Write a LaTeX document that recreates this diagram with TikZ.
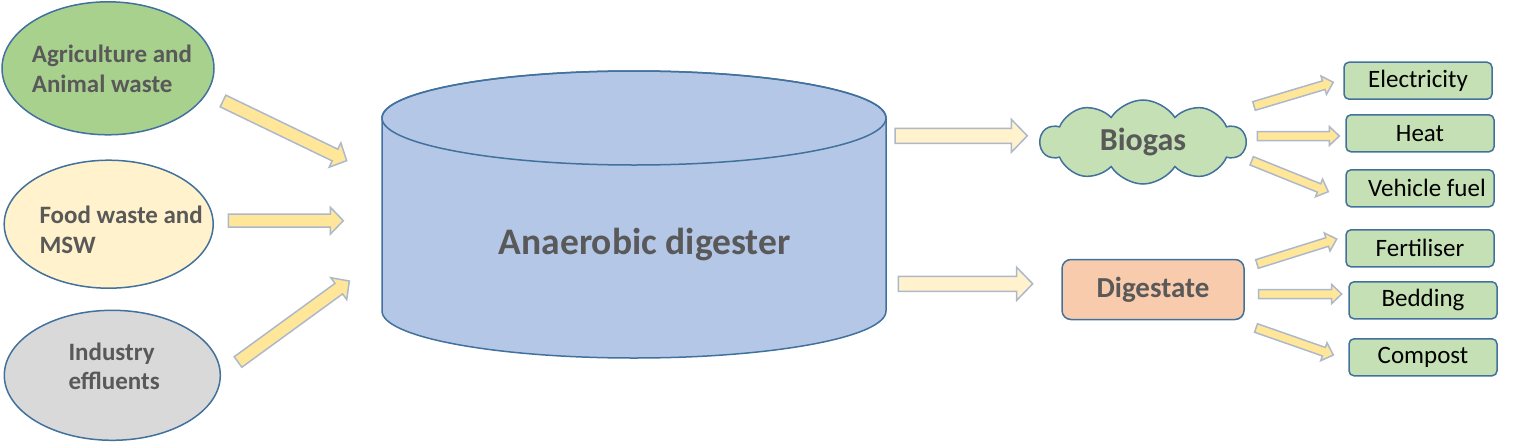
\documentclass[tikz,border=0pt]{standalone}
\usepackage{fontspec}
\setmainfont{Carlito}
\usetikzlibrary{calc,shapes.geometric,shapes.symbols}

\definecolor{edgeblue}{HTML}{41719C}
\definecolor{agrigreen}{HTML}{A9D18E}
\definecolor{foodcream}{HTML}{FFF2CC}
\definecolor{indgray}{HTML}{D9D9D9}
\definecolor{tankblue}{HTML}{B4C7E7}
\definecolor{leafgreen}{HTML}{C5E0B4}
\definecolor{peach}{HTML}{F8CBAD}
\definecolor{arrowfill}{HTML}{FFE699}
\definecolor{arrowpale}{HTML}{FFF2CC}
\definecolor{arrowline}{HTML}{ADB9CA}
\definecolor{textgray}{HTML}{595959}

% block arrow: style, from, to, half shaft, half head, head length
\newcommand{\fatarrow}[6]{%
\coordinate (hb) at ($(#3)!#6!(#2)$);
\draw[#1] ($(#2)!#4!90:(#3)$) -- ($(hb)!#4!-90:(#2)$) -- ($(hb)!#5!-90:(#2)$) -- (#3)
  -- ($(hb)!#5!90:(#2)$) -- ($(hb)!#4!90:(#2)$) -- ($(#2)!#4!-90:(#3)$) -- cycle;}

\tikzset{
  src/.style={ellipse,draw=edgeblue,line width=1.5pt,inner sep=0pt},
  srclabel/.style={anchor=west,align=left,inner sep=0pt,text=textgray,font=\fontsize{25}{29.5}\selectfont\bfseries},
  outbox/.style={draw=edgeblue,fill=leafgreen,line width=1.5pt,rounded corners=5pt,
    minimum width=148pt,minimum height=37pt,inner sep=0pt,font=\fontsize{25}{29}\selectfont},
  fatarr/.style={fill=arrowfill,draw=arrowline,line width=1.5pt,line join=miter},
  palearr/.style={fatarr,fill=arrowpale}
}

\begin{document}
\begin{tikzpicture}[x=1pt,y=-1pt]
\useasboundingbox (0,0) rectangle (1531,442);

\node[src,fill=agrigreen,minimum width=212pt,minimum height=133pt] (agri) at (108,68.3) {};
\node[srclabel] (agri-t) at (31.7,68.6) {Agriculture and\\Animal waste};
\node[src,fill=foodcream,minimum width=209pt,minimum height=128pt] (food) at (108.7,224.2) {};
\node[srclabel] (food-t) at (39.3,229.8) {Food waste and\\MSW};
\node[src,fill=indgray,minimum width=216pt,minimum height=130pt] (ind) at (112.3,375.3) {};
\node[srclabel] (ind-t) at (68.3,366.5) {Industry\\effluents};

\draw[draw=edgeblue,fill=tankblue,line width=1.5pt] (382,118) -- (382,311)
  arc[start angle=180,end angle=360,x radius=252pt,y radius=47pt] -- (886,118)
  arc[start angle=0,end angle=180,x radius=252pt,y radius=47pt] -- cycle;
\draw[draw=edgeblue,line width=1.5pt] (634,118) ellipse [x radius=252pt,y radius=47pt];
\node[anchor=base,text=textgray,font=\fontsize{37.5}{42}\selectfont\bfseries] (digester) at (644.7,254.4) {Anaerobic digester};

\node[cloud,cloud puffs=10,cloud puff arc=115,aspect=2.4,draw=edgeblue,fill=leafgreen,line width=1.5pt,
  minimum width=205pt,minimum height=84pt,inner sep=0pt,text=textgray,
  font=\fontsize{32}{36}\selectfont\bfseries] (biogas) at (1143,142) {Biogas};
\node[draw=edgeblue,fill=peach,line width=1.5pt,rounded corners=9pt,minimum width=182pt,minimum height=60pt,
  text=textgray,font=\fontsize{29}{33}\selectfont\bfseries] (digestate) at (1153,289.5) {Digestate};

\node[outbox] (elec) at (1418,80.7) {Electricity\hspace{10pt}};
\node[outbox] (heat) at (1420,133.3) {Heat\hspace{12pt}};
\node[outbox] (fuel) at (1420,188.3) {\hspace{14pt}Vehicle fuel};
\node[outbox] (fert) at (1420,248.3) {Fertiliser\hspace{14pt}};
\node[outbox] (bedding) at (1423,300.3) {Bedding\hspace{22pt}};
\node[outbox] (compost) at (1423,357.3) {Compost\hspace{14pt}};

\coordinate (a1s) at (223,101);     \coordinate (a1e) at (346.7,160.7);
\coordinate (a2s) at (228.3,220.7); \coordinate (a2e) at (343.3,220.7);
\coordinate (a3s) at (238,362);     \coordinate (a3e) at (349.3,281);
\coordinate (d1s) at (895,135.8);   \coordinate (d1e) at (1027.3,135.8);
\coordinate (d2s) at (898.3,283.8); \coordinate (d2e) at (1032.7,283.8);
\coordinate (b1s) at (1254,106);    \coordinate (b1e) at (1333.3,82.3);
\coordinate (b2s) at (1257.3,136);  \coordinate (b2e) at (1339.3,136);
\coordinate (b3s) at (1251.7,160.8);\coordinate (b3e) at (1328.3,191.7);
\coordinate (c1s) at (1257,264);    \coordinate (c1e) at (1336.7,239);
\coordinate (c2s) at (1258.7,294);  \coordinate (c2e) at (1341.7,294);
\coordinate (c3s) at (1256,328);    \coordinate (c3e) at (1333.3,355);

\fatarrow{fatarr}{a1s}{a1e}{6.5pt}{13.5pt}{13pt}
\fatarrow{fatarr}{a2s}{a2e}{6.5pt}{13.5pt}{13pt}
\fatarrow{fatarr}{a3s}{a3e}{6.5pt}{13.5pt}{13pt}
\fatarrow{palearr}{d1s}{d1e}{7.5pt}{16.5pt}{16pt}
\fatarrow{palearr}{d2s}{d2e}{7.5pt}{16.5pt}{16pt}
\fatarrow{fatarr}{b1s}{b1e}{4.5pt}{9.5pt}{10pt}
\fatarrow{fatarr}{b2s}{b2e}{4.5pt}{9.5pt}{10pt}
\fatarrow{fatarr}{b3s}{b3e}{4.5pt}{9.5pt}{10pt}
\fatarrow{fatarr}{c1s}{c1e}{4.5pt}{9.5pt}{10pt}
\fatarrow{fatarr}{c2s}{c2e}{4.5pt}{9.5pt}{10pt}
\fatarrow{fatarr}{c3s}{c3e}{4.5pt}{9.5pt}{10pt}
\end{tikzpicture}
\end{document}
